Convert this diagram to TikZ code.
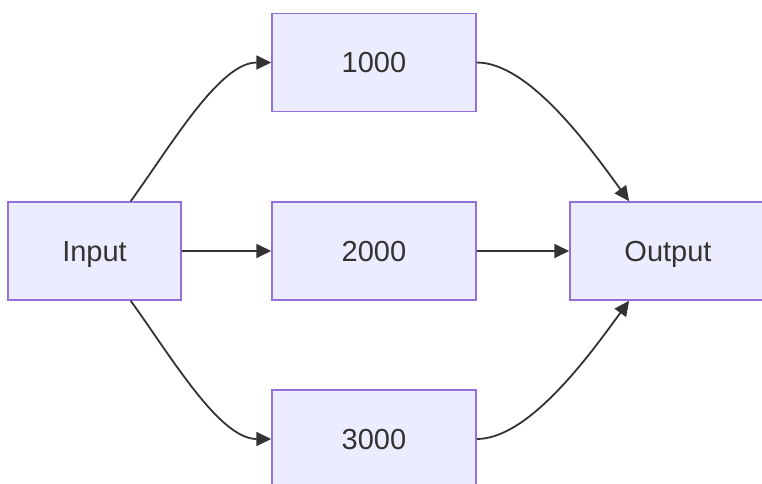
\documentclass[tikz,border=0pt]{standalone}
\usepackage{fontspec}
\setmainfont{Liberation Sans}
\usetikzlibrary{positioning, arrows.meta}
\definecolor{boxfill}{HTML}{ECECFF}
\definecolor{boxline}{HTML}{9370DB}
\definecolor{ink}{HTML}{333333}

\begin{document}
\begin{tikzpicture}
	[on grid, node distance=94.25pt and 139.75pt,
	 blk/.style={rectangle, draw=boxline, fill=boxfill, line width=0.75pt,
	   minimum height=49pt, inner sep=0pt, text=ink,
	   text height=10.4pt, text depth=0pt,
	   font=\fontsize{14.5pt}{17pt}\selectfont},
	 link/.style={draw=ink, line width=0.9pt, -{Triangle[length=7.5pt,width=7pt]}}]
   \useasboundingbox (0,0) rectangle (381pt,-241.5pt);
   \node[blk, minimum width=86.5pt] (input) at (47.25pt,-125.5pt) {Input};
   \node[blk, minimum width=102pt] (n2000) [right=of input] {2000};
   \node[blk, minimum width=102pt] (n1000) [above=of n2000] {1000};
   \node[blk, minimum width=102pt] (n3000) [below=94pt of n2000] {3000};
   \node[blk, minimum width=98pt] (output) [right=147pt of n2000] {Output};
   % fan out
   \draw[link] (input.54) .. controls +(20pt,27.5pt) and +(-26pt,0pt) .. (n1000.west);
   \draw[link] (input) -- (n2000);
   \draw[link] (input.-54) .. controls +(20pt,-27.5pt) and +(-26pt,0pt) .. (n3000.west);
   % fan in
   \draw[link] (n1000.east) .. controls +(26pt,0pt) and +(-20pt,27.5pt) .. (output.128);
   \draw[link] (n2000) -- (output);
   \draw[link] (n3000.east) .. controls +(26pt,0pt) and +(-20pt,-27.5pt) .. (output.232);
\end{tikzpicture}
\end{document}
